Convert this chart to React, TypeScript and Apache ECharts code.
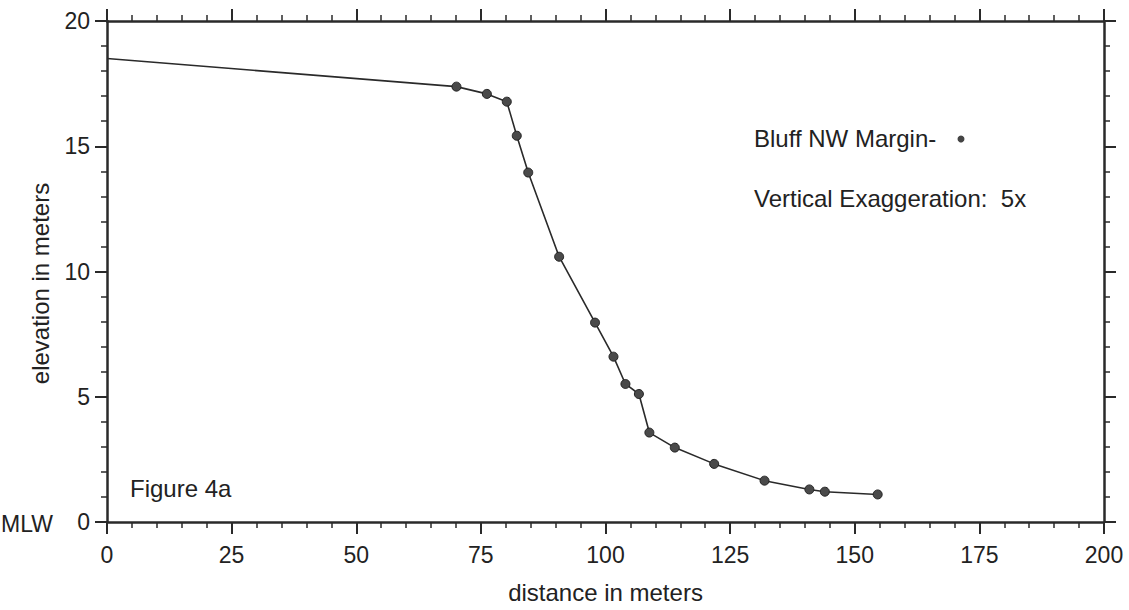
import React, { useEffect, useRef } from "react";
import * as echarts from "echarts";

const distance = [0, 70.1, 76.2, 80.2, 82.2, 84.5, 90.7, 97.9, 101.6, 104.0, 106.7, 108.8, 113.9, 121.8, 131.9, 140.9, 144.0, 154.6];
const elevation = [18.5, 17.38, 17.09, 16.78, 15.42, 13.95, 10.59, 7.96, 6.6, 5.51, 5.11, 3.57, 2.97, 2.32, 1.65, 1.3, 1.21, 1.1];
const xTicks = [0, 25, 50, 75, 100, 125, 150, 175, 200];
const yTicks = [0, 5, 10, 15, 20];

const FONT = "'Liberation Sans', Arial, sans-serif";
const INK = "#2a2a2a";
const TXT = "#222";

export default function App() {
  const ref = useRef<HTMLDivElement>(null);
  useEffect(() => {
    if (!ref.current) return;
    const chart = echarts.init(ref.current, null, { renderer: "svg" });
    const axisLine = { show: true, onZero: false, lineStyle: { color: INK, width: 2.5 } };
    const tickCommon = { show: true, inside: false, length: 12, lineStyle: { color: INK, width: 2 } };
    const minorCommon = { show: true, splitNumber: 5, length: 6, lineStyle: { color: INK, width: 1.5 } };
    const labelStyle = { color: TXT, fontSize: 23, fontFamily: FONT };
    const data = distance.map((d, i) =>
      i === 0 ? { value: [d, elevation[i]], symbol: "none" } : { value: [d, elevation[i]] }
    );
    const xCommon = {
      type: "value",
      min: xTicks[0],
      max: xTicks[xTicks.length - 1],
      interval: 25,
      axisLine,
      axisTick: tickCommon,
      minorTick: minorCommon,
      splitLine: { show: false },
      minorSplitLine: { show: false },
    };
    const yCommon = {
      type: "value",
      min: yTicks[0],
      max: yTicks[yTicks.length - 1],
      interval: 5,
      axisLine,
      axisTick: tickCommon,
      minorTick: minorCommon,
      splitLine: { show: false },
      minorSplitLine: { show: false },
    };
    chart.setOption({
      animation: false,
      backgroundColor: "#fff",
      grid: { left: 107, right: 25, top: 21, bottom: 88 },
      xAxis: [
        {
          ...xCommon,
          position: "bottom",
          axisLabel: { ...labelStyle, margin: 21 },
          name: "distance in meters",
          nameLocation: "middle",
          nameGap: 58,
          nameTextStyle: { color: TXT, fontSize: 24, fontFamily: FONT },
        },
        { ...xCommon, position: "top", axisLabel: { show: false } },
      ],
      yAxis: [
        {
          ...yCommon,
          position: "left",
          axisLabel: { ...labelStyle, margin: 17 },
          name: "elevation in meters",
          nameLocation: "middle",
          nameGap: 55,
          nameTextStyle: { color: TXT, fontSize: 24, fontFamily: FONT, padding: [0, 24, 0, 0] },
        },
        { ...yCommon, position: "right", axisLabel: { show: false } },
      ],
      series: [
        {
          type: "line",
          data,
          xAxisIndex: 0,
          yAxisIndex: 0,
          symbol: "circle",
          symbolSize: 9,
          showSymbol: true,
          lineStyle: { color: INK, width: 1.6 },
          itemStyle: { color: "#4a4a4a", borderColor: "#222", borderWidth: 1 },
        },
      ],
      graphic: [
        { type: "text", x: 754, y: 138, style: { text: "Bluff NW Margin-", fontSize: 24, fontFamily: FONT, fill: TXT, verticalAlign: "middle" } },
        { type: "circle", shape: { cx: 961, cy: 139, r: 3.5 }, style: { fill: "#444" } },
        { type: "text", x: 754, y: 198, style: { text: "Vertical Exaggeration:  5x", fontSize: 24, fontFamily: FONT, fill: TXT, verticalAlign: "middle" } },
        { type: "text", x: 130, y: 488, style: { text: "Figure 4a", fontSize: 24, fontFamily: FONT, fill: TXT, verticalAlign: "middle" } },
        { type: "text", x: 1, y: 524, style: { text: "MLW", fontSize: 23, fontFamily: FONT, fill: TXT, verticalAlign: "middle" } },
      ],
    });
    return () => chart.dispose();
  }, []);
  return (
    <div
      ref={ref}
      style={{ position: "fixed", left: 0, top: 0, width: 1129, height: 610, background: "#fff" }}
    />
  );
}
